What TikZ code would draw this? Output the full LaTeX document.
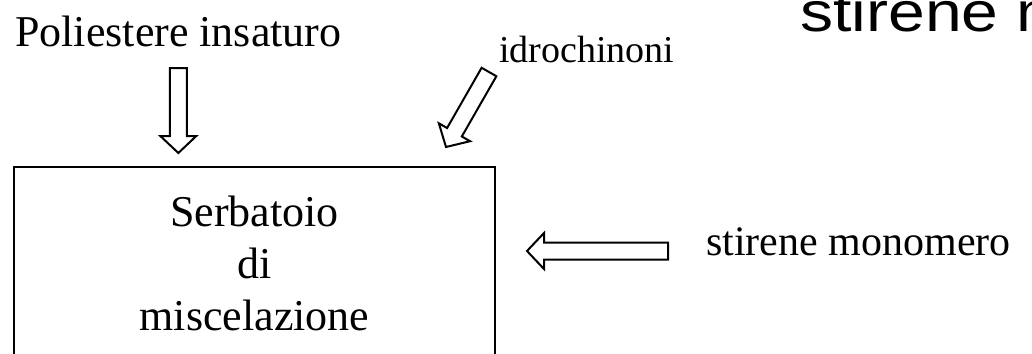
\documentclass[tikz,border=0pt]{standalone}
\usepackage{fontspec}
\setmainfont{Liberation Serif}
\newfontfamily\arialfont{Liberation Sans}
\usetikzlibrary{calc,decorations.pathreplacing}

\tikzset{
  feedtext/.style={inner sep=0pt, anchor=base west},
  tankbox/.style={draw, line width=2pt, minimum width=481pt, minimum height=260pt, inner sep=0pt},
  tanktext/.style={inner sep=0pt, align=center, font=\fontsize{44}{52}\selectfont},
  arrowline/.style={draw, line width=2pt, fill=white, line join=miter},
  % hollow block arrow along each straight piece of the path
  blockarrow/.style={decorate, decoration={show path construction,
    lineto code={
      \coordinate (bas) at (\tikzinputsegmentfirst);
      \coordinate (bae) at (\tikzinputsegmentlast);
      \coordinate (bah) at ($(bae)!17pt!(bas)$);
      \path[arrowline] ($(bas)!8.5pt!90:(bae)$) -- ($(bah)!8.5pt!-90:(bas)$)
        -- ($(bah)!18pt!-90:(bas)$) -- (bae) -- ($(bah)!18pt!90:(bas)$)
        -- ($(bah)!8.5pt!90:(bas)$) -- ($(bas)!8.5pt!-90:(bae)$) -- cycle;
    }}}
}

\begin{document}
\begin{tikzpicture}[x=1pt, y=1pt]

\useasboundingbox (0,0) rectangle (1032,-353);
\clip (0,0) rectangle (1032,-353);

% inputs
\node[feedtext, font=\fontsize{44}{50}\selectfont] (poly) at (15,-47) {Poliestere insaturo};
\node[feedtext, font=\fontsize{38}{44}\selectfont] (idro) at (499,-63) {idrochinoni};
\node[feedtext, font=\fontsize{42}{48}\selectfont] (styrene) at (706,-255) {stirene monomero};
\node[feedtext, font=\arialfont\fontsize{56}{64}\selectfont] (title) at (800,-32) {\scalebox{1.18}[1]{stirene m}};

% mixing tank
\node[tankbox, anchor=north west] (tank) at (13,-166) {};
\node[tanktext, anchor=north] (tanktext) at ($(tank.north)+(0,-30)$) {Serbatoio\\di\\miscelazione};

% feeds
\path[blockarrow] ($(poly.base)+(0,-21)$) -- ($(tank.north -| poly.base)+(0,13)$);
\path[blockarrow] ($(idro.base west)+(-10,-9)$) -- ($(tank.north east)+(-50,19)$);
\path[blockarrow] ($(styrene.base west)+(-38,4)$) -- ($(tank.north east)+(31,-85)$);

\end{tikzpicture}
\end{document}
